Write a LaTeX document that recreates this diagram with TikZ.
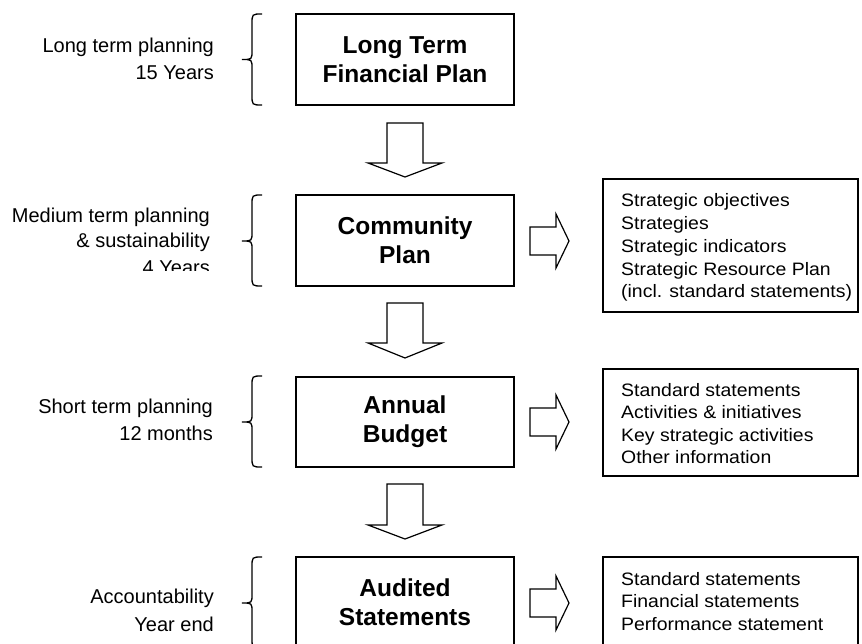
\documentclass[tikz,border=0pt]{standalone}
\usepackage{fontspec}
\setmainfont{Liberation Sans}
\newfontfamily\rtfont{Liberation Sans}[FakeStretch=1.08]
\newcommand\mybrace[3]{\draw[bracepath] (262,#1) .. controls (252,#1) .. (252,#1+10) -- (252,#2-9) .. controls (252,#2) .. (242,#2) .. controls (252,#2) .. (252,#2+9) -- (252,#3-10) .. controls (252,#3) .. (262,#3);}
\newcommand\mydownblk[3]{\draw[blockarrow] (387,#1) -- (423,#1) -- (423,#2) -- (442,#2) -- (405,#3) -- (368,#2) -- (387,#2) -- cycle;}
\newcommand\myrightblk[1]{\draw[blockarrow] (530,#1-14) -- (556,#1-14) -- (556,#1-27) -- (569,#1) -- (556,#1+27) -- (556,#1+14) -- (530,#1+14) -- cycle;}
\begin{document}
\begin{tikzpicture}[x=1pt,y=-1pt,
  mainbox/.style={draw,line width=1.8pt,minimum width=218pt,inner sep=0pt,align=center,font=\bfseries\fontsize{24.5}{29}\selectfont},
  listbox/.style={draw,line width=1.8pt,inner sep=0pt,minimum width=255pt},
  listtxt/.style={anchor=base west,inner sep=0pt,font=\rtfont\fontsize{18}{20}\selectfont},
  lbltxt/.style={anchor=base east,inner sep=0pt,font=\fontsize{20}{24}\selectfont},
  blockarrow/.style={draw,line width=1.2pt,line join=miter},
  bracepath/.style={draw,line width=1.3pt}
]
\useasboundingbox (0,0) rectangle (862,644);
\clip (0,0) rectangle (862,644);

% main boxes
\node[mainbox,minimum height=91pt] (ltfp) at (405,59.5) {Long Term\\Financial Plan};
\node[mainbox,minimum height=91pt] (cp) at (405,240.5) {Community\\Plan};
\node[mainbox,minimum height=90pt] (ab) at (405,422) {Annual\\Budget};
\node[mainbox,minimum height=90pt] (as) at (405,602) {Audited\\Statements};

% block arrows down
\mydownblk{123}{163}{177}
\mydownblk{303}{343}{358}
\mydownblk{484}{525}{539}

% block arrows right
\myrightblk{241}
\myrightblk{422}
\myrightblk{603}

% braces
\mybrace{14}{59.5}{105}
\mybrace{195}{241}{286}
\mybrace{376}{422}{467}
\mybrace{557}{603}{648}

% left labels
\node[lbltxt] (l1a) at (214,53) {Long term planning};
\node[lbltxt] (l1b) at (214,80) {15 Years};
\node[lbltxt] (l2a) at (210,223) {Medium term planning};
\node[lbltxt] (l2b) at (210,248) {\& sustainability};
\begin{scope}
\clip (0,255) rectangle (230,271);
\node[lbltxt] (l2c) at (210,275) {4 Years};
\end{scope}
\node[lbltxt] (l3a) at (213,413) {Short term planning};
\node[lbltxt] (l3b) at (213,440) {12 months};
\node[lbltxt] (l4a) at (214,603) {Accountability};
\node[lbltxt] (l4b) at (214,631) {Year end};

% list boxes
\node[listbox,minimum height=133pt] (cpl) at (730.5,245.5) {};
\node[listbox,minimum height=107pt] (abl) at (730.5,422.5) {};
\node[listbox,minimum height=95pt] (asl) at (730.5,604.5) {};

\node[listtxt] (c1) at (621,207) {Strategic objectives};
\node[listtxt] (c2) at (621,230) {Strategies};
\node[listtxt] (c3) at (621,252.7) {Strategic indicators};
\node[listtxt] (c4) at (621,275.3) {Strategic Resource Plan};
\node[listtxt] (c5) at (621,298) {(incl. standard statements)};

\node[listtxt] (b1) at (621,396) {Standard statements};
\node[listtxt] (b2) at (621,418.5) {Activities \& initiatives};
\node[listtxt] (b3) at (621,441) {Key strategic activities};
\node[listtxt] (b4) at (621,463) {Other information};

\node[listtxt] (s1) at (621,585) {Standard statements};
\node[listtxt] (s2) at (621,607.5) {Financial statements};
\node[listtxt] (s3) at (621,630) {Performance statement};
\end{tikzpicture}
\end{document}
